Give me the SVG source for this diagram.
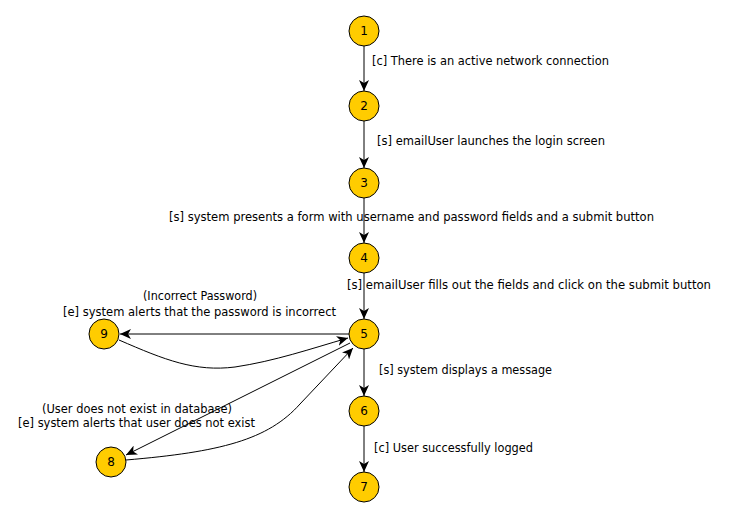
<svg xmlns="http://www.w3.org/2000/svg" width="729" height="516" viewBox="0 0 729 516">
<defs>
<style>
.n circle{fill:#FFCC00;stroke:#000;stroke-width:1}
.n text{font-family:"DejaVu Sans",sans-serif;font-size:12px;text-anchor:middle;fill:#000}
.e path{fill:none;stroke:#000;stroke-width:1;marker-end:url(#ah)}
.l{font-family:"DejaVu Sans",sans-serif;font-size:11.5px;fill:#000}
</style>
<marker id="ah" markerWidth="12" markerHeight="10" refX="11" refY="5" orient="auto" markerUnits="userSpaceOnUse">
<path d="M0,0 L11,5 L0,10 L3,5 z" fill="#000"/>
</marker>
</defs>
<rect width="729" height="516" fill="#fff"/>
<g id="connectors" class="e">
<path d="M364,46 L364,91"/>
<path d="M364,121 L364,168"/>
<path d="M364,198 L364,243"/>
<path d="M364,273 L364,319"/>
<path d="M364,349 L364,396"/>
<path d="M364,426 L364,472"/>
<path d="M349,334 L120,334"/>
<path d="M119,340 C165,360 195,372 235,367 C275,361 310,349 348,338"/>
<path d="M350,343 L126,455"/>
<path d="M126,460 C220,452 268,440 300,404 L353,348"/>
</g>
<g id="labels" class="l">
<text x="372" y="65" textLength="237" lengthAdjust="spacingAndGlyphs">[c] There is an active network connection</text>
<text x="377" y="145" textLength="228" lengthAdjust="spacingAndGlyphs">[s] emailUser launches the login screen</text>
<text x="169" y="221" textLength="485" lengthAdjust="spacingAndGlyphs">[s] system presents a form with username and password fields and a submit button</text>
<text x="347" y="289" textLength="364" lengthAdjust="spacingAndGlyphs">[s] emailUser fills out the fields and click on the submit button</text>
<text x="143" y="300" textLength="114" lengthAdjust="spacingAndGlyphs">(Incorrect Password)</text>
<text x="63" y="316" textLength="273" lengthAdjust="spacingAndGlyphs">[e] system alerts that the password is incorrect</text>
<text x="379" y="374" textLength="173" lengthAdjust="spacingAndGlyphs">[s] system displays a message</text>
<text x="42" y="413" textLength="190" lengthAdjust="spacingAndGlyphs">(User does not exist in database)</text>
<text x="18" y="427" textLength="237" lengthAdjust="spacingAndGlyphs">[e] system alerts that user does not exist</text>
<text x="374" y="452" textLength="159" lengthAdjust="spacingAndGlyphs">[c] User successfully logged</text>
</g>
<g id="node1" class="n"><circle cx="364" cy="31" r="15"/><text x="364" y="35">1</text></g>
<g id="node2" class="n"><circle cx="364" cy="106" r="15"/><text x="364" y="110">2</text></g>
<g id="node3" class="n"><circle cx="364" cy="183" r="15"/><text x="364" y="187">3</text></g>
<g id="node4" class="n"><circle cx="364" cy="258" r="15"/><text x="364" y="262">4</text></g>
<g id="node5" class="n"><circle cx="364" cy="334" r="15"/><text x="364" y="338">5</text></g>
<g id="node6" class="n"><circle cx="364" cy="411" r="15"/><text x="364" y="415">6</text></g>
<g id="node7" class="n"><circle cx="364" cy="487" r="15"/><text x="364" y="491">7</text></g>
<g id="node9" class="n"><circle cx="104" cy="334" r="15"/><text x="104" y="338">9</text></g>
<g id="node8" class="n"><circle cx="111" cy="462" r="15"/><text x="111" y="466">8</text></g>
</svg>
